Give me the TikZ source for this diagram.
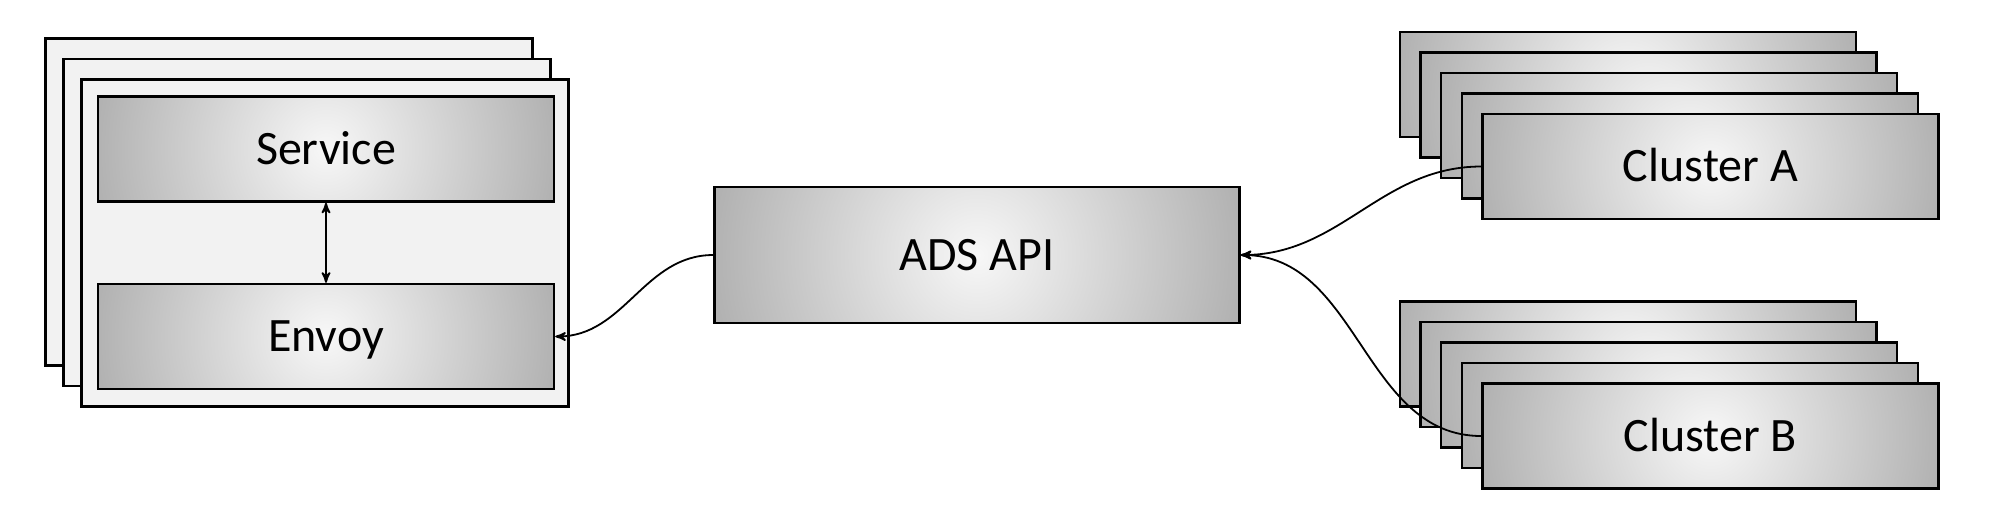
\documentclass[tikz,border=0pt]{standalone}
\usepackage{fontspec}
\setmainfont{Carlito}
\usetikzlibrary{arrows}
\usetikzlibrary{calc}

\begin{document}
\begin{tikzpicture}[x=0.5pt,y=-0.5pt,>=stealth',
    box/.style={draw,line width=1.2pt,fill=black!30,minimum width=228pt,minimum height=52.5pt,inner sep=0pt,
      text height=15pt,text depth=0pt,font=\fontsize{24}{28}\selectfont,
      path picture={\shade[inner color=black!3,outer color=black!30]
        let \p1=($(path picture bounding box.east)-(path picture bounding box.center)$) in
        (path picture bounding box.center) circle (\x1);}},
    frame/.style={draw,line width=1.2pt,fill=black!5,minimum width=243.5pt,minimum height=163.5pt,inner sep=0pt},
    link/.style={line width=0.9pt}]
      \useasboundingbox (0,0) rectangle (2000,527);

      % pods
      \foreach \i in {0,1}
        \node[frame] at (289+18*\i,202+20.5*\i) {};
      \node[frame] (pod) at (325,243) {};
      \node[box] (srv) at (326,149) {Service};
      \node[box] (env) at (326,336.5) {Envoy};
      \draw[link,<->] (srv) -- (env);

      \node[box,minimum width=262.5pt,minimum height=68pt] (ads) at (977,255) {ADS API};

      % clusters
      \foreach \i in {0,...,3}
        \node[box] at (1628+20.6*\i,84.5+20.5*\i) {};
      \node[box] (ca) at (1710.4,166.5) {Cluster A};
      \foreach \i in {0,...,3}
        \node[box] at (1628+20.6*\i,354+20.5*\i) {};
      \node[box] (cb) at (1710.4,436) {Cluster B};

      \draw[link,->] (ads.west) to[out=180,in=0] (env.east);
      \draw[link,->] (ca.west) to[out=180,in=0] (ads.east);
      \draw[link,->] (cb.west) to[out=180,in=0] (ads.east);
\end{tikzpicture}
\end{document}
